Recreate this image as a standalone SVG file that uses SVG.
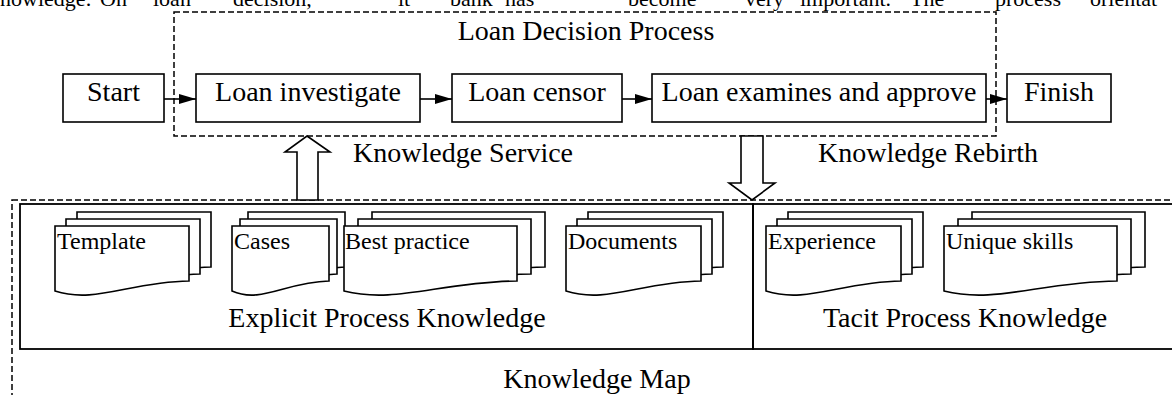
<svg xmlns="http://www.w3.org/2000/svg" width="1172" height="395" viewBox="0 0 1172 395">
<style>
text{font-family:"Liberation Serif","Times New Roman",serif;fill:#000}
.lbl{font-size:28px}
.doc{font-size:24px}
.para{font-size:22px}
.box{fill:#fff;stroke:#000;stroke-width:1.6}
.dash{fill:none;stroke:#000;stroke-width:1.5;stroke-dasharray:6 3}
.solid{fill:none;stroke:#000;stroke-width:1.8}
.page{fill:#fff;stroke:#000;stroke-width:1.6;stroke-linejoin:miter}
.conn{stroke:#000;stroke-width:1.6;fill:none;marker-end:url(#ah)}
.big{fill:#fff;stroke:#000;stroke-width:1.6}
</style>
<defs>
<marker id="ah" markerUnits="userSpaceOnUse" markerWidth="17" markerHeight="10" refX="17" refY="5" orient="auto">
<path d="M0,0 L17,5 L0,10 Z" fill="#000"/>
</marker>
</defs>
<rect width="1172" height="395" fill="#fff"/>
<g id="para-text" class="para">
<text x="0" y="6">nowledge:</text>
<text x="100" y="6">On</text>
<text x="153" y="6">loan</text>
<text x="233" y="6">decision,</text>
<text x="398" y="6">it</text>
<text x="450" y="6">bank</text>
<text x="505" y="6">has</text>
<text x="628" y="6">become</text>
<text x="745" y="6">very</text>
<text x="800" y="6">important.</text>
<text x="910" y="6">The</text>
<text x="995" y="6">process</text>
<text x="1090" y="6">orientat</text>
</g>
<g id="loan-decision-process">
<rect class="dash" x="174" y="12" width="822" height="124"/>
<text class="lbl" x="586" y="40" text-anchor="middle">Loan Decision Process</text>
</g>
<g id="knowledge-map">
<rect class="dash" x="12" y="200" width="1180" height="220"/>
<text class="lbl" x="597" y="388" text-anchor="middle">Knowledge Map</text>
</g>
<g id="explicit-knowledge">
<rect class="solid" x="20" y="204" width="733" height="145"/>
<text class="lbl" x="387" y="327" text-anchor="middle">Explicit Process Knowledge</text>
</g>
<g id="tacit-knowledge">
<rect class="solid" x="753" y="204" width="430" height="145"/>
<text class="lbl" x="965" y="327" text-anchor="middle">Tacit Process Knowledge</text>
</g>
<g id="connectors">
<line class="conn" x1="164" y1="99" x2="196" y2="99"/>
<line class="conn" x1="420" y1="99" x2="452" y2="99"/>
<line class="conn" x1="622" y1="99" x2="652" y2="99"/>
<line class="conn" x1="986" y1="99" x2="1007" y2="99"/>
<path id="service-arrow" class="big" d="M307,136 L330,152 L318,152 L318,200 L297,200 L297,152 L285,152 Z"/>
<path id="rebirth-arrow" class="big" d="M741,136 L763,136 L763,183 L775,183 L752,200 L729,183 L741,183 Z"/>
</g>
<text class="lbl" x="353" y="162">Knowledge Service</text>
<text class="lbl" x="818" y="162">Knowledge Rebirth</text>
<g id="start">
<rect class="box" x="63" y="74" width="101" height="48"/>
<text class="lbl" x="113.5" y="101" text-anchor="middle">Start</text>
</g>
<g id="loan-investigate">
<rect class="box" x="196" y="74" width="224" height="48"/>
<text class="lbl" x="308" y="101" text-anchor="middle">Loan investigate</text>
</g>
<g id="loan-censor">
<rect class="box" x="452" y="74" width="170" height="48"/>
<text class="lbl" x="537" y="101" text-anchor="middle">Loan censor</text>
</g>
<g id="loan-examine">
<rect class="box" x="652" y="74" width="334" height="48"/>
<text class="lbl" x="819" y="101" text-anchor="middle">Loan examines and approve</text>
</g>
<g id="finish">
<rect class="box" x="1007" y="74" width="104" height="48"/>
<text class="lbl" x="1059" y="101" text-anchor="middle">Finish</text>
</g>
<g id="doc-template">
<path class="page" d="M77,212 H211 V267 C150.7,268 117.2,290 77,277 Z"/>
<path class="page" d="M66,219 H200 V274 C139.7,275 106.2,297 66,284 Z"/>
<path class="page" d="M55,226 H189 V281 C128.7,282 95.2,304 55,291 Z"/>
<text class="doc" x="57" y="249">Template</text>
</g>
<g id="doc-cases">
<path class="page" d="M248,212 H345 V267 C301.4,268 277.1,290 248,277 Z"/>
<path class="page" d="M240,219 H337 V274 C293.4,275 269.1,297 240,284 Z"/>
<path class="page" d="M232,226 H329 V281 C285.4,282 261.1,304 232,291 Z"/>
<text class="doc" x="234" y="249">Cases</text>
</g>
<g id="doc-best-practice">
<path class="page" d="M372,212 H545 V267 C467.2,268 423.9,290 372,277 Z"/>
<path class="page" d="M358,219 H531 V274 C453.2,275 409.9,297 358,284 Z"/>
<path class="page" d="M344,226 H517 V281 C439.2,282 395.9,304 344,291 Z"/>
<text class="doc" x="345" y="249">Best practice</text>
</g>
<g id="doc-documents">
<path class="page" d="M588,212 H723 V267 C662.3,268 628.5,290 588,277 Z"/>
<path class="page" d="M577,219 H712 V274 C651.3,275 617.5,297 577,284 Z"/>
<path class="page" d="M566,226 H701 V281 C640.3,282 606.5,304 566,291 Z"/>
<text class="doc" x="568" y="249">Documents</text>
</g>
<g id="doc-experience">
<path class="page" d="M788,212 H923 V267 C862.3,268 828.5,290 788,277 Z"/>
<path class="page" d="M777,219 H912 V274 C851.3,275 817.5,297 777,284 Z"/>
<path class="page" d="M766,226 H901 V281 C840.3,282 806.5,304 766,291 Z"/>
<text class="doc" x="768" y="249">Experience</text>
</g>
<g id="doc-unique-skills">
<path class="page" d="M972,212 H1145 V267 C1067.2,268 1023.9,290 972,277 Z"/>
<path class="page" d="M958,219 H1131 V274 C1053.2,275 1009.9,297 958,284 Z"/>
<path class="page" d="M944,226 H1117 V281 C1039.2,282 995.9,304 944,291 Z"/>
<text class="doc" x="946" y="249">Unique skills</text>
</g>
</svg>
